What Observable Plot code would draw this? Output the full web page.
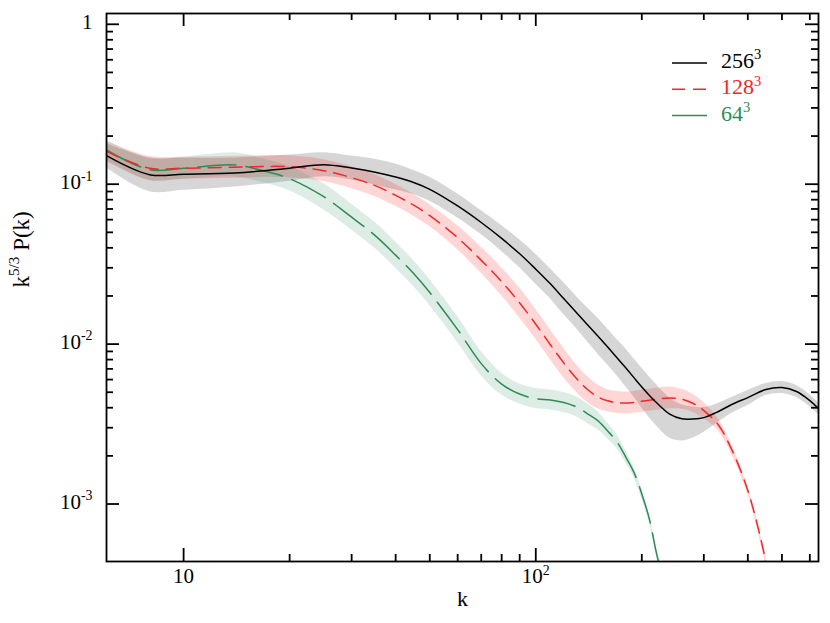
<!DOCTYPE html>
<html><head><meta charset="utf-8">
<script src="https://cdn.jsdelivr.net/npm/d3@7"></script>
<script src="https://cdn.jsdelivr.net/npm/@observablehq/plot@0.6"></script>
<style>
body{margin:0;background:#fff}
svg text{white-space:pre}
</style>
</head><body><div id="chart"></div>
<script>
// ---- data ----
const k256 = [6.04, 8, 10, 14, 20, 25, 30, 35, 40, 45, 50, 60, 70, 80, 90, 100, 110, 120, 130, 140, 150, 160, 170, 180, 190, 200, 220, 240, 260, 280, 300, 330, 360, 400, 450, 500, 550, 600, 635];
const v256 = [0.1507, 0.1147, 0.1155, 0.1175, 0.126, 0.1323, 0.1261, 0.1189, 0.1108, 0.1025, 0.0929, 0.0731, 0.0576, 0.0458, 0.0367, 0.02941, 0.02381, 0.01925, 0.01587, 0.01324, 0.01122, 0.00958, 0.00823, 0.00711, 0.00617, 0.0054, 0.00431, 0.00365, 0.00341, 0.0034, 0.00347, 0.00379, 0.00419, 0.00463, 0.0052, 0.00535, 0.00505, 0.00443, 0.00395];
const hi256 = [0.179, 0.1465, 0.1454, 0.1458, 0.152, 0.1573, 0.1499, 0.1434, 0.1336, 0.1219, 0.1105, 0.0869, 0.0685, 0.0552, 0.0449, 0.0365, 0.02955, 0.02424, 0.01998, 0.01691, 0.01454, 0.01242, 0.01067, 0.00935, 0.00811, 0.0071, 0.00559, 0.0046, 0.00417, 0.00404, 0.00401, 0.00425, 0.00463, 0.00512, 0.00567, 0.00583, 0.0055, 0.00483, 0.00431];
const lo256 = [0.1267, 0.0898, 0.0917, 0.0961, 0.1045, 0.1113, 0.1061, 0.0986, 0.0919, 0.0862, 0.0781, 0.0615, 0.0484, 0.038, 0.03, 0.0237, 0.01919, 0.01529, 0.01261, 0.01037, 0.00866, 0.00739, 0.00635, 0.00541, 0.00469, 0.00399, 0.00309, 0.00258, 0.00248, 0.00259, 0.0028, 0.00324, 0.00368, 0.00413, 0.00477, 0.00491, 0.00463, 0.00406, 0.00362];

const k128 = [6.04, 8, 10, 14, 20, 25, 30, 35, 40, 45, 50, 60, 70, 80, 90, 100, 110, 120, 130, 140, 150, 160, 170, 180, 190, 200, 220, 240, 260, 280, 300, 330, 360, 400, 450, 470];
const v128 = [0.1603, 0.1259, 0.1259, 0.1277, 0.1287, 0.1215, 0.1098, 0.0979, 0.0851, 0.0739, 0.0636, 0.0463, 0.0334, 0.02455, 0.01807, 0.01331, 0.00991, 0.00763, 0.00615, 0.00522, 0.00468, 0.00442, 0.00431, 0.00428, 0.00432, 0.00439, 0.00452, 0.0046, 0.00452, 0.00425, 0.00384, 0.00312, 0.00219, 0.001215, 0.000437, 0.000249];
const hi128 = [0.1851, 0.1497, 0.1474, 0.1495, 0.1507, 0.1423, 0.1286, 0.1146, 0.0997, 0.0865, 0.0745, 0.0551, 0.0403, 0.03002, 0.02242, 0.01652, 0.0123, 0.00947, 0.00752, 0.0063, 0.00556, 0.00518, 0.00505, 0.00501, 0.00506, 0.00514, 0.00529, 0.00539, 0.00522, 0.00484, 0.00431, 0.0034, 0.00235, 0.001287, 0.000463, 0.000264];
const lo128 = [0.1388, 0.1059, 0.1075, 0.1091, 0.1099, 0.1038, 0.0938, 0.0836, 0.0727, 0.0631, 0.0543, 0.0389, 0.0277, 0.02007, 0.01456, 0.01073, 0.00799, 0.00615, 0.00503, 0.00433, 0.00394, 0.00377, 0.00368, 0.00366, 0.00369, 0.00375, 0.00386, 0.00393, 0.00391, 0.00373, 0.00342, 0.00286, 0.00204, 0.001147, 0.000413, 0.000235];

const k64 = [6.04, 8, 10, 14, 17, 20, 25, 30, 35, 40, 45, 50, 60, 70, 80, 90, 100, 110, 120, 130, 140, 150, 160, 170, 180, 190, 200, 210, 220, 230];
const v64 = [0.1636, 0.1232, 0.1259, 0.1318, 0.1206, 0.1082, 0.0835, 0.0622, 0.0477, 0.036, 0.0276, 0.021, 0.01232, 0.00755, 0.00562, 0.00487, 0.00456, 0.00447, 0.00431, 0.00406, 0.00368, 0.00332, 0.00286, 0.00245, 0.00197, 0.001576, 0.001155, 0.000811, 0.000497, 0.000333];
const hi64 = [0.189, 0.1443, 0.1474, 0.1567, 0.1434, 0.1286, 0.1007, 0.075, 0.0575, 0.0434, 0.0333, 0.0253, 0.01486, 0.00898, 0.00658, 0.00562, 0.00527, 0.00516, 0.00498, 0.00469, 0.00425, 0.00378, 0.00321, 0.00271, 0.00215, 0.001694, 0.001242, 0.000859, 0.000526, 0.000353];
const lo64 = [0.1416, 0.1052, 0.1075, 0.1108, 0.1014, 0.091, 0.0692, 0.0516, 0.0396, 0.02985, 0.02289, 0.01741, 0.01022, 0.00635, 0.0048, 0.00422, 0.00395, 0.00387, 0.00373, 0.00352, 0.00319, 0.00292, 0.00255, 0.00222, 0.00181, 0.001466, 0.001074, 0.000766, 0.000469, 0.000314];

const seriesLabels = ["256^{3}", "128^{3}", "64^{3}"];
const seriesColors = ["#000000", "#f02828", "#2e8b57"];

const xMajor = [10, 100];
const xMinor = [20, 30, 40, 50, 60, 70, 80, 90, 200, 300, 400, 500, 600];
const xTickLabels = ["10", "10^{2}"];
const yMajor = [0.001, 0.01, 0.1, 1];
const yMinor = [0.002, 0.003, 0.004, 0.005, 0.006, 0.007, 0.008, 0.009,
                0.02, 0.03, 0.04, 0.05, 0.06, 0.07, 0.08, 0.09,
                0.2, 0.3, 0.4, 0.5, 0.6, 0.7, 0.8, 0.9];
const yTickLabels = ["10^{-3}", "10^{-2}", "10^{-1}", "1"];
const xTitle = "k";
const yTitle = "k^{5/3} P(k)";

// ---- build tables ----
const rows = (k, v, lo, hi) => k.map((kk, i) => ({k: kk, v: v[i], lo: lo[i], hi: hi[i]}));
const d256 = rows(k256, v256, lo256, hi256);
const d128 = rows(k128, v128, lo128, hi128);
const d64 = rows(k64, v64, lo64, hi64);

const W = 830, H = 623, mL = 106, mR = 12, mT = 13, mB = 62;
const pw = W - mL - mR, ph = H - mT - mB;
const maj = 13, mnr = 7, tsw = 1.8;
const fontFam = "Liberation Serif, serif";

const band = (d, color) => Plot.areaY(d, {x: "k", y1: "lo", y2: "hi", fill: color, fillOpacity: 0.16, curve: "catmull-rom", clip: true});
const line = (d, color, dash) => Plot.line(d, {x: "k", y: "v", stroke: color, strokeWidth: 1.5, strokeDasharray: dash, curve: "catmull-rom", clip: true});

const plot = Plot.plot({
  width: W, height: H,
  marginLeft: mL, marginRight: mR, marginTop: mT, marginBottom: mB,
  x: {type: "log", domain: [6.04, 635], axis: null},
  y: {type: "log", domain: [4.37e-4, 1.168], axis: null},
  style: {fontFamily: fontFam, background: "white", color: "black"},
  marks: [
    band(d256, "#000000"),
    band(d128, "#ff0000"),
    band(d64, "#2e8b57"),
    line(d64, seriesColors[2], "38,10"),
    line(d128, seriesColors[1], "13,8"),
    line(d256, seriesColors[0], null),
    // ticks (inward, on all four sides)
    Plot.tickX(xMajor, {x: d => d, insetTop: ph - maj, stroke: "black", strokeWidth: tsw}),
    Plot.tickX(xMajor, {x: d => d, insetBottom: ph - maj, stroke: "black", strokeWidth: tsw}),
    Plot.tickX(xMinor, {x: d => d, insetTop: ph - mnr, stroke: "black", strokeWidth: tsw}),
    Plot.tickX(xMinor, {x: d => d, insetBottom: ph - mnr, stroke: "black", strokeWidth: tsw}),
    Plot.tickY(yMajor, {y: d => d, insetRight: pw - maj, stroke: "black", strokeWidth: tsw}),
    Plot.tickY(yMajor, {y: d => d, insetLeft: pw - maj, stroke: "black", strokeWidth: tsw}),
    Plot.tickY(yMinor, {y: d => d, insetRight: pw - mnr, stroke: "black", strokeWidth: tsw}),
    Plot.tickY(yMinor, {y: d => d, insetLeft: pw - mnr, stroke: "black", strokeWidth: tsw}),
    Plot.frame({stroke: "black", strokeWidth: 1.8}),
    // tick labels
    Plot.text(xMajor, {x: d => d, text: (d, i) => xTickLabels[i], frameAnchor: "bottom", dy: 15, lineAnchor: "middle", fontSize: 21, fill: "black"}),
    Plot.text(yMajor, {y: d => d, text: (d, i) => yTickLabels[i], frameAnchor: "left", textAnchor: "end", dx: -14, dy: -2, lineAnchor: "middle", fontSize: 21, fill: "black"}),
    // axis titles
    Plot.text([xTitle], {frameAnchor: "bottom", dy: 44, lineAnchor: "bottom", fontSize: 22, fill: "black"}),
    Plot.text([yTitle], {frameAnchor: "left", dx: -78, rotate: -90, lineAnchor: "bottom", fontSize: 23, fill: "black"})
  ]
});

plot.setAttribute("font-family", fontFam);
document.getElementById("chart").appendChild(plot);

// legend (inside plot, top right)
const svg = d3.select(plot);
const leg = svg.append("g").attr("font-family", fontFam).attr("font-size", 22).attr("text-anchor", "start");
const legDash = [null, "13,8", null];
seriesLabels.forEach((lab, i) => {
  const y = 63 + i * 26.3;
  leg.append("line").attr("x1", 672).attr("x2", 707).attr("y1", y).attr("y2", y)
    .attr("stroke", seriesColors[i]).attr("stroke-width", 1.5)
    .attr("stroke-dasharray", legDash[i]);
  leg.append("text").attr("x", 721).attr("y", y + 5).attr("fill", seriesColors[i]).text(lab);
});

// superscripts: "a^{b}c"
const NS = "http://www.w3.org/2000/svg";
plot.querySelectorAll("text").forEach(t => {
  const s = t.textContent;
  const m = s.match(/^(.*?)\^\{(.*?)\}(.*)$/);
  if (!m) return;
  const fs = parseFloat(t.getAttribute("font-size") || getComputedStyle(t).fontSize) || 21;
  t.textContent = "";
  const a = document.createElementNS(NS, "tspan"); a.textContent = m[1];
  const b = document.createElementNS(NS, "tspan"); b.textContent = m[2];
  b.setAttribute("font-size", (fs * 0.66).toFixed(1));
  b.setAttribute("dy", (-fs * 0.4).toFixed(1));
  t.append(a, b);
  if (m[3]) {
    const c = document.createElementNS(NS, "tspan"); c.textContent = m[3];
    c.setAttribute("dy", (fs * 0.4).toFixed(1));
    t.append(c);
  }
});
</script>
</body></html>
